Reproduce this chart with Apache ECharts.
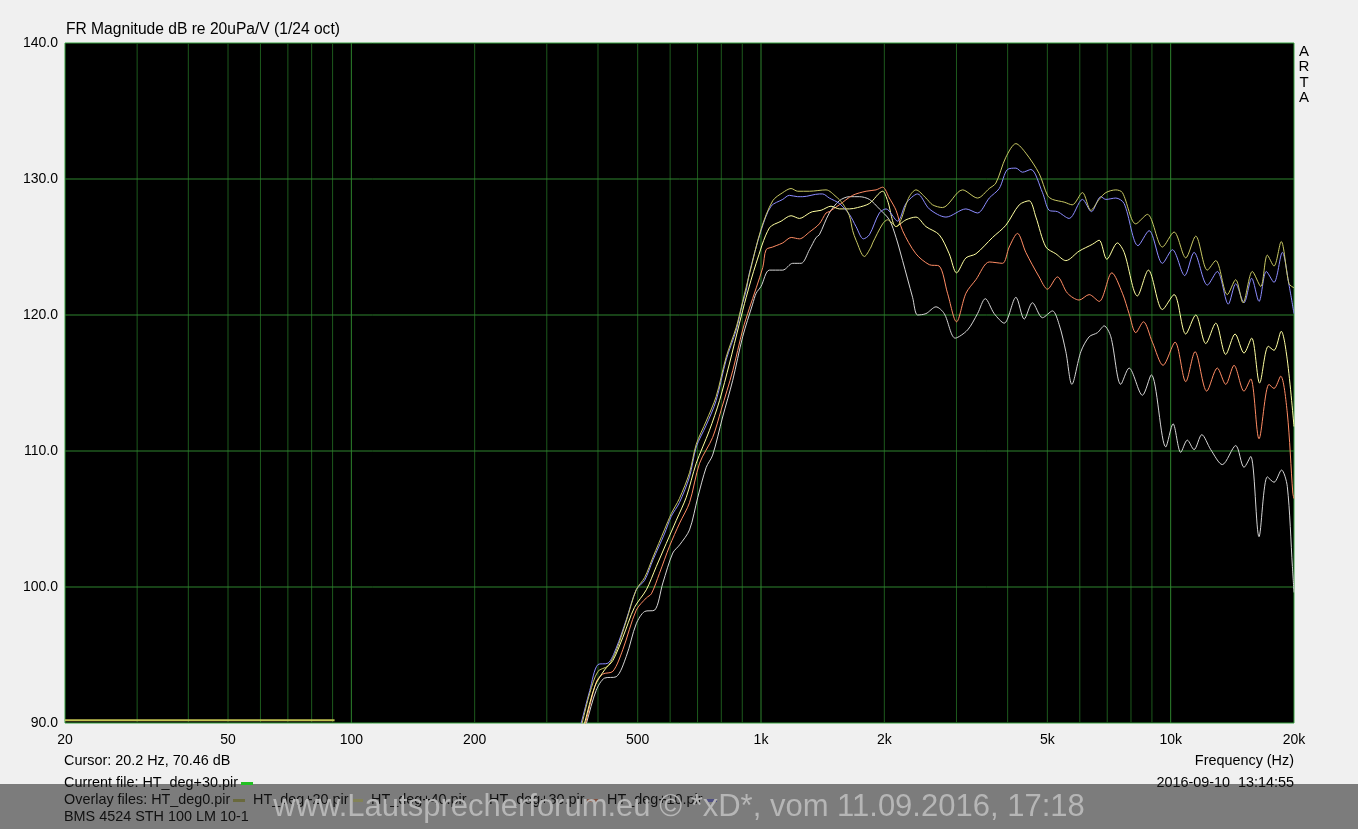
<!DOCTYPE html>
<html>
<head>
<meta charset="utf-8">
<script src="https://cdn.jsdelivr.net/npm/echarts@6/dist/echarts.min.js"></script>
<style>
html,body{margin:0;padding:0;background:#f0f0f0;}
#c{width:1358px;height:829px;}
</style>
</head>
<body>
<div id="c"></div>
<script>
// ---- Data ----
var xTickLabels = [20, 50, 100, 200, 500, 1000, 2000, 5000, 10000, 20000];
var gridMinorFreqs = [30,40,50,60,70,80,90,200,300,400,500,600,700,800,900,2000,3000,4000,5000,6000,7000,8000,9000];
var gridMajorFreqs = [100, 1000, 10000];
var gridLevels = [100, 110, 120, 130];

var currentFreq = [20, 91];
var currentDb = [90.2, 90.2];

var f0 = [345,366,382,400,423,443,469,496,520,545,581,604,632,669,695,735,777,822,870,902,937,1000,1068,1130,1184,1229,1313,1441,1525,1582,1643,1674,1706,1788,1856,1873,1981,2037,2136,2301,2389,2527,2623,2774,3104,3377,3607,3744,3960,4190,4431,4775,5003,5146,5495,5750,6090,6384,6690,6946,7347,7624,8220,8774,9546,10193,10884,11513,12290,12882,13749,14413,15016,15825,16589,17215,17873,18610,19450,20000];
var db0 = [87.0,90.0,92.2,93.8,94.2,95.3,97.5,99.8,100.7,102.2,104.2,105.4,106.5,108.4,110.5,112.2,114.0,116.9,119.1,121.0,123.0,126.3,128.4,129.0,129.3,129.1,129.1,129.2,128.7,128.2,127.3,126.2,125.5,124.3,125.0,125.3,126.7,127.0,126.5,128.7,129.2,128.6,128.1,127.9,129.2,128.6,129.3,129.7,131.6,132.6,131.9,130.4,128.8,128.5,128.3,128.1,129.0,127.7,128.5,129.0,129.2,129.0,126.7,127.4,125.0,126.1,124.2,125.8,123.3,124.0,121.5,122.6,120.9,123.2,122.1,124.4,123.6,125.4,122.3,122.0];

var f10 = [342,364,382,400,423,443,469,496,520,545,581,604,632,669,695,735,777,822,870,902,920,937,1000,1058,1130,1173,1229,1264,1388,1414,1468,1553,1643,1706,1778,1839,1945,2019,2155,2259,2411,2575,2828,3164,3377,3607,3815,3996,4190,4347,4557,4865,5050,5292,5652,6090,6406,6754,6946,7347,7697,8325,8858,9546,10097,10820,11405,12290,12998,13826,14413,15101,15765,16430,17120,17873,18726,19450,20000];
var db10 = [87.0,90.0,92.4,94.3,94.4,95.5,97.6,99.8,100.5,102.0,103.9,105.2,106.2,108.1,110.3,111.9,113.7,116.7,118.9,120.9,121.8,123.1,126.2,128.0,128.5,128.8,128.7,128.7,128.9,128.9,128.6,128.2,127.4,126.5,125.6,125.9,127.5,127.8,126.9,128.2,128.9,127.8,127.2,127.8,127.5,128.6,129.3,130.7,130.8,130.5,130.7,129.0,127.7,127.6,127.1,128.5,127.6,128.7,128.5,128.6,128.2,125.1,126.2,123.8,124.8,122.9,124.6,122.2,123.2,120.8,122.3,120.9,122.7,121.0,123.2,122.4,124.6,122.2,120.1];

var f20 = [348,371,393,415,435,460,491,525,555,587,621,657,695,748,792,837,886,920,973,1048,1120,1184,1241,1313,1337,1402,1482,1553,1643,1721,1839,1981,2037,2136,2259,2389,2527,2723,2880,3001,3164,3347,3674,3960,4269,4514,4688,4959,5245,5548,5979,6442,6690,6985,7413,7700,8294,8823,9546,10193,10884,11513,12180,12882,13626,14360,15101,15765,16487,17310,17873,18610,19259,20000];
var db20 = [87.0,90.0,92.7,93.9,94.6,96.3,98.5,99.8,101.5,103.2,104.9,106.6,109.1,111.5,113.7,116.4,119.4,121.3,123.8,126.4,126.9,127.3,127.1,127.5,127.6,127.7,128.0,127.8,127.8,127.9,128.2,129.1,128.4,126.5,127.0,127.2,126.5,125.9,124.5,123.1,124.2,124.5,125.7,126.6,128.1,128.4,127.2,125.0,124.5,124.0,124.7,125.2,125.5,124.1,125.3,124.6,121.4,123.3,120.4,121.5,118.6,120.0,117.9,119.4,117.1,118.6,117.2,118.3,115.0,117.7,117.4,118.8,116.7,111.8];

var f30 = [350,373,396,411,435,460,496,525,540,565,598,633,669,708,762,799,853,902,937,1010,1029,1068,1089,1130,1185,1241,1313,1388,1441,1468,1553,1674,1805,1909,1981,2057,2136,2216,2389,2575,2723,2853,3001,3164,3347,3607,3886,4035,4227,4431,4775,5003,5292,5599,5979,6324,6690,7184,7624,7916,8220,8579,9024,9582,10249,10884,11470,12248,12998,13626,14278,15101,15683,16430,17378,17873,18556,19259,19867,20000];
var db30 = [87.0,90.0,93.0,93.6,93.8,95.4,98.3,99.2,99.5,101.0,103.0,104.7,106.2,109.1,111.0,113.0,115.9,118.9,120.5,123.5,124.8,125.0,125.1,125.3,125.7,125.6,126.1,126.7,127.5,127.6,128.1,128.8,129.1,129.2,129.4,128.6,127.7,126.2,124.5,123.7,123.6,121.6,119.5,121.6,122.6,123.9,123.8,125.0,126.0,124.6,122.8,121.9,122.8,121.6,121.1,121.5,121.0,123.1,121.6,120.1,118.7,119.5,118.0,116.3,118.0,115.1,117.3,114.4,116.1,114.9,116.3,114.4,115.3,110.9,114.9,114.6,115.5,112.8,106.9,106.5];

var f40 = [352,375,396,415,443,469,496,520,550,576,609,633,669,701,735,762,806,853,902,954,973,1000,1048,1130,1195,1253,1313,1363,1388,1468,1553,1643,1738,1839,1945,2057,2136,2216,2344,2411,2527,2673,2801,2979,3193,3377,3527,3709,3923,4190,4390,4598,4865,5146,5342,5548,5739,6036,6324,6626,6881,7144,7556,7916,8531,8970,9729,10135,10581,10980,11405,11910,12527,13368,14413,15101,15683,16430,17215,17873,18644,19259,19821,20000];
var db40 = [87.0,90.0,92.4,93.3,93.4,94.9,97.3,98.2,98.3,100.3,102.5,103.1,104.2,106.6,108.8,109.7,112.5,115.2,118.4,120.8,121.6,122.1,123.3,123.3,123.8,123.8,124.8,125.7,125.9,127.5,128.4,128.7,128.7,128.5,127.8,127.0,125.7,124.0,121.3,120.0,120.1,120.6,120.1,118.3,118.9,120.1,121.2,120.1,119.4,121.3,119.7,120.9,119.8,120.3,119.3,117.3,114.9,117.3,118.4,118.7,119.2,118.4,114.9,116.1,114.1,115.6,110.3,112.0,109.9,110.8,110.1,111.2,110.1,109.0,110.4,108.8,109.6,103.7,108.1,107.7,108.6,107.4,101.5,99.6];

// ---- Styles ----
var FONT = "'Liberation Sans', Arial, sans-serif";
var C0 = '#c8c864', C10 = '#8c8cff', C20 = '#ffffa0', C30 = '#ff8c64', C40 = '#d4d4d4';
var GRID_MINOR = '#1d5a1d', GRID_MAJOR = '#2e842e';

function pairs(fs, ds) { return fs.map(function (f, i) { return [f, ds[i]]; }); }
function curve(name, fs, ds, color) {
  return {
    name: name, type: 'line', data: pairs(fs, ds), showSymbol: false, symbol: 'none',
    smooth: 0.3, clip: true, z: 3, silent: true, animation: false,
    lineStyle: { color: color, width: 1 }, emphasis: { disabled: true }
  };
}
function gridSeries(data, color) {
  return {
    type: 'line', data: data, showSymbol: false, symbol: 'none', clip: true, z: 2,
    silent: true, animation: false, lineStyle: { color: color, width: 1 }, emphasis: { disabled: true }
  };
}
function fmtHz(v) { return v >= 1000 ? (v / 1000) + 'k' : String(v); }

var chart = echarts.init(document.getElementById('c'), null, { renderer: 'canvas' });

var series = [];
gridMinorFreqs.forEach(function (f) { series.push(gridSeries([[f, 90], [f, 140]], GRID_MINOR)); });
gridMajorFreqs.forEach(function (f) { series.push(gridSeries([[f, 90], [f, 140]], GRID_MAJOR)); });
gridLevels.forEach(function (v) { series.push(gridSeries([[20, v], [20000, v]], GRID_MAJOR)); });
series.push({
  name: 'current', type: 'line', data: pairs(currentFreq, currentDb), showSymbol: false, symbol: 'none',
  clip: true, z: 3, silent: true, animation: false, lineStyle: { color: '#c0c050', width: 2 }
});
series.push(curve('HT_deg+40', f40, db40, C40));
series.push(curve('HT_deg+30', f30, db30, C30));
series.push(curve('HT_deg+20', f20, db20, C20));
series.push(curve('HT_deg+10', f10, db10, C10));
series.push(curve('HT_deg0', f0, db0, C0));

function txt(x, y, s, opt) {
  opt = opt || {};
  return {
    type: 'text', x: x, y: y, z: opt.z || 50, silent: true,
    style: {
      text: s, fill: opt.color || '#000', font: (opt.size || 14) + 'px ' + FONT,
      textAlign: opt.align || 'left', textVerticalAlign: 'middle'
    }
  };
}
function mark(x, y, w, color, z) {
  return { type: 'rect', z: z || 60, silent: true, shape: { x: x, y: y, width: w, height: 3 }, style: { fill: color } };
}

var option = {
  backgroundColor: '#f0f0f0',
  animation: false,
  textStyle: { fontFamily: FONT },
  grid: {
    left: 65, top: 43, width: 1229, height: 680, show: true,
    backgroundColor: '#000000', borderColor: '#36a03e', borderWidth: 1, containLabel: false
  },
  xAxis: {
    type: 'log', logBase: 10, min: 20, max: 20000,
    axisLine: { show: false }, axisTick: { show: false },
    splitLine: { show: false, lineStyle: { color: GRID_MINOR } },
    minorTick: { show: false }, minorSplitLine: { show: false },
    axisLabel: {
      customValues: xTickLabels, formatter: fmtHz, color: '#000', fontSize: 14,
      fontFamily: FONT, margin: 10, showMinLabel: true, showMaxLabel: true, hideOverlap: false
    }
  },
  yAxis: {
    type: 'value', min: 90, max: 140, interval: 10,
    axisLine: { show: false }, axisTick: { show: false },
    splitLine: { show: false, lineStyle: { color: GRID_MAJOR } },
    axisLabel: { formatter: function (v) { return v.toFixed(1); }, color: '#000', fontSize: 14, fontFamily: FONT, margin: 7 }
  },
  series: series,
  graphic: {
    elements: [
      txt(66, 30, 'FR Magnitude dB re 20uPa/V (1/24 oct)', { size: 15.6 }),
      txt(1304, 52, 'A', { align: 'center', size: 15 }),
      txt(1304, 67, 'R', { align: 'center', size: 15 }),
      txt(1304, 82.5, 'T', { align: 'center', size: 15 }),
      txt(1304, 98, 'A', { align: 'center', size: 15 }),
      txt(64, 761, 'Cursor: 20.2 Hz, 70.46 dB', { size: 14.4 }),
      txt(1294, 761, 'Frequency (Hz)', { align: 'right', size: 14.4 }),
      txt(64, 783, 'Current file: HT_deg+30.pir', { size: 14.4 }),
      txt(1294, 783, '2016-09-10  13:14:55', { align: 'right', size: 14.4 }),
      txt(64, 800, 'Overlay files: HT_deg0.pir', { size: 14.4 }),
      mark(233, 799, 12, C0),
      txt(253, 800, 'HT_deg+20.pir', { size: 14.4 }),
      mark(353, 799, 10, C20),
      txt(371, 800, 'HT_deg+40.pir', { size: 14.4 }),
      mark(470, 799, 10, C40),
      txt(489, 800, 'HT_deg+30.pir', { size: 14.4 }),
      mark(587, 799, 11, C30),
      txt(607, 800, 'HT_deg+10.pir', { size: 14.4 }),
      mark(706, 799, 11, C10),
      txt(64, 817, 'BMS 4524 STH 100 LM 10-1', { size: 14.4 }),
      { type: 'rect', z: 100, silent: true, shape: { x: 0, y: 784, width: 1358, height: 45 }, style: { fill: 'rgba(30,30,30,0.55)' } },
      mark(241, 782, 12, '#22c022', 102),
      txt(679, 807, 'www.Lautsprecherforum.eu \u00a9 *xD*, vom 11.09.2016, 17:18', { align: 'center', size: 31, color: '#b6b6b6', z: 101 })
    ]
  }
};
chart.setOption(option);
</script>
</body>
</html>
